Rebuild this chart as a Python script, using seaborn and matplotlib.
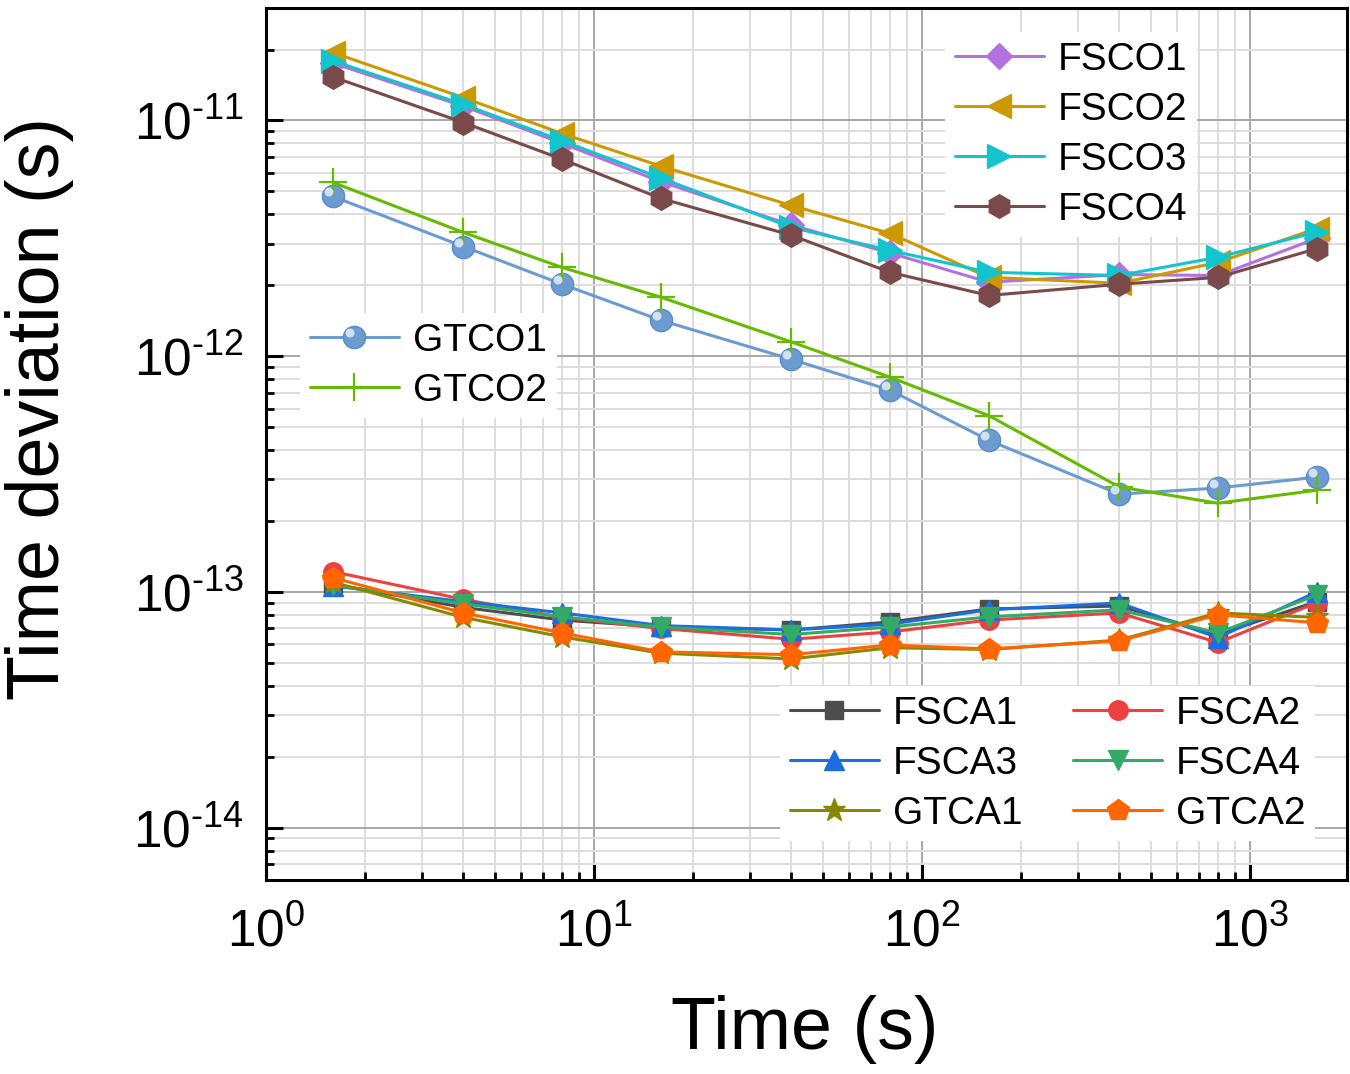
import numpy as np
import pandas as pd
import matplotlib
matplotlib.use("Agg")
import matplotlib.pyplot as plt
import seaborn as sns
from matplotlib.path import Path
from matplotlib.legend_handler import HandlerTuple
import matplotlib.ticker as mticker

# ---------------- data ----------------
tau = [1.6, 4, 8, 16, 40, 80, 160, 400, 800, 1600]

FSCO1 = [1.75e-11, 1.15e-11, 8.0e-12, 5.5e-12, 3.6e-12, 2.74e-12, 2.06e-12, 2.22e-12, 2.2e-12, 3.16e-12]
FSCO2 = [1.94e-11, 1.25e-11, 8.8e-12, 6.4e-12, 4.36e-12, 3.32e-12, 2.16e-12, 2.04e-12, 2.5e-12, 3.48e-12]
FSCO3 = [1.79e-11, 1.17e-11, 8.2e-12, 5.7e-12, 3.52e-12, 2.81e-12, 2.27e-12, 2.2e-12, 2.63e-12, 3.36e-12]
FSCO4 = [1.53e-11, 9.8e-12, 6.85e-12, 4.67e-12, 3.26e-12, 2.27e-12, 1.81e-12, 2.02e-12, 2.16e-12, 2.86e-12]
GTCO1 = [4.76e-12, 2.92e-12, 2.02e-12, 1.42e-12, 9.7e-13, 7.18e-13, 4.4e-13, 2.6e-13, 2.76e-13, 3.07e-13]
GTCO2 = [5.46e-12, 3.35e-12, 2.38e-12, 1.78e-12, 1.15e-12, 8.15e-13, 5.6e-13, 2.79e-13, 2.38e-13, 2.7e-13]

FSCA1 = [1.08e-13, 8.6e-14, 7.6e-14, 7.1e-14, 6.9e-14, 7.46e-14, 8.47e-14, 8.72e-14, 6.6e-14, 9.1e-14]
FSCA2 = [1.22e-13, 9.3e-14, 7.8e-14, 7.0e-14, 6.3e-14, 6.77e-14, 7.6e-14, 8.15e-14, 6.1e-14, 9.0e-14]
FSCA3 = [1.06e-13, 9.1e-14, 8.15e-14, 7.2e-14, 6.9e-14, 7.3e-14, 8.4e-14, 8.98e-14, 6.4e-14, 1.0e-13]
FSCA4 = [1.07e-13, 8.9e-14, 7.84e-14, 7.1e-14, 6.6e-14, 7.1e-14, 7.84e-14, 8.4e-14, 6.7e-14, 9.7e-14]
GTCA1 = [1.1e-13, 7.8e-14, 6.45e-14, 5.5e-14, 5.2e-14, 5.8e-14, 5.7e-14, 6.25e-14, 8.15e-14, 7.8e-14]
GTCA2 = [1.15e-13, 8.15e-14, 6.7e-14, 5.57e-14, 5.42e-14, 5.96e-14, 5.73e-14, 6.2e-14, 8.0e-14, 7.4e-14]

x_label = "Time (s)"
y_label = "Time deviation (s)"

# ---------------- style ----------------
sns.set_style("ticks")
plt.rcParams["font.family"] = ["Liberation Sans", "DejaVu Sans"]
plt.rcParams["mathtext.fontset"] = "custom"
plt.rcParams["mathtext.rm"] = "Liberation Sans"
plt.rcParams["mathtext.it"] = "Liberation Sans"
plt.rcParams["mathtext.default"] = "regular"
plt.rcParams["axes.unicode_minus"] = False
plt.rcParams["text.color"] = "black"
plt.rcParams["axes.labelcolor"] = "black"
plt.rcParams["xtick.color"] = "black"
plt.rcParams["ytick.color"] = "black"

fig = plt.figure(figsize=(13.5, 10.74), dpi=100)
W, H = 1350, 1074
ax = fig.add_axes([266 / W, 1 - 880 / H, (1347 - 266) / W, (880 - 8) / H])

LW = 2.2
MS = 15

def draw(y, color, marker, label, ms=MS, mew=1.0, mec=None, zorder=3):
    sns.lineplot(x=tau, y=y, ax=ax, color=color, marker=marker, markersize=ms,
                 markeredgecolor=mec if mec else color, markeredgewidth=mew,
                 linewidth=LW, label=label, zorder=zorder, legend=False)
    return ax.lines[-1]

h = {}
h["FSCO1"] = draw(FSCO1, "#b271de", "D", "FSCO1", ms=13)
h["FSCO2"] = draw(FSCO2, "#cc9900", "<", "FSCO2", ms=17)
h["FSCO3"] = draw(FSCO3, "#14c4cc", ">", "FSCO3", ms=17)
h["FSCO4"] = draw(FSCO4, "#7a4a4a", "h", "FSCO4", ms=17)
h["GTCO1"] = draw(GTCO1, "#6b9bd0", "o", "GTCO1", ms=16, mec="#5a8cc6")
# sphere highlight marker (offset small circle)
th = np.linspace(0, 2 * np.pi, 40)
hl_verts = np.column_stack([-0.2 + 0.2 * np.cos(th), 0.2 + 0.2 * np.sin(th)])
hl_verts = np.vstack([hl_verts, [[0.5, -0.5]]])
hl_codes = [Path.MOVETO] + [Path.LINETO] * (len(th) - 2) + [Path.CLOSEPOLY] + [Path.MOVETO]
hl_path = Path(hl_verts, hl_codes)
hl, = ax.plot(tau, GTCO1, linestyle="none", marker=hl_path, markersize=16,
              markerfacecolor="#e4eefa", markeredgewidth=0, alpha=0.85, zorder=3.1)
h["GTCO2"] = draw(GTCO2, "#66bb00", "+", "GTCO2", ms=20, mew=1.6)

h["FSCA1"] = draw(FSCA1, "#4d4d4d", "s", "FSCA1", ms=13)
h["FSCA2"] = draw(FSCA2, "#ee4040", "o", "FSCA2", ms=14)
h["FSCA3"] = draw(FSCA3, "#1a6ee0", "^", "FSCA3", ms=15)
h["FSCA4"] = draw(FSCA4, "#33aa66", "v", "FSCA4", ms=15)
h["GTCA1"] = draw(GTCA1, "#888800", "*", "GTCA1", ms=17)
h["GTCA2"] = draw(GTCA2, "#ff6600", "p", "GTCA2", ms=16)

ax.set_xscale("log")
ax.set_yscale("log")
ax.set_xlim(1, 1980)
ax.set_ylim(6.0e-15, 3.0e-11)

def log_fmt(v, pos):
    e = int(round(np.log10(v)))
    return r"$10^{\text{%d}}$" % e

ax.xaxis.set_major_locator(mticker.FixedLocator([1, 10, 100, 1000]))
ax.xaxis.set_minor_locator(mticker.LogLocator(base=10, subs=np.arange(2, 10), numticks=20))
ax.yaxis.set_major_locator(mticker.FixedLocator([1e-14, 1e-13, 1e-12, 1e-11]))
ax.yaxis.set_minor_locator(mticker.LogLocator(base=10, subs=np.arange(2, 10), numticks=20))
ax.xaxis.set_major_formatter(mticker.FuncFormatter(log_fmt))
ax.yaxis.set_major_formatter(mticker.FuncFormatter(log_fmt))
ax.xaxis.set_minor_formatter(mticker.NullFormatter())
ax.yaxis.set_minor_formatter(mticker.NullFormatter())

ax.grid(which="major", color="#a8a8a8", linewidth=1.4, zorder=0)
ax.grid(which="minor", color="#dddddd", linewidth=1.4, zorder=0)
ax.set_axisbelow(True)

for s in ax.spines.values():
    s.set_linewidth(2.2)
    s.set_color("black")

ax.tick_params(which="major", direction="in", length=12, width=2.2, labelsize=37,
               top=False, right=False, colors="black")
ax.tick_params(axis="x", which="major", pad=20)
ax.tick_params(axis="y", which="major", pad=16)
ax.tick_params(which="minor", direction="in", length=6, width=2.0,
               top=False, right=False)

ax.set_xlabel(x_label, fontsize=53)
ax.set_ylabel(y_label, fontsize=53)
ax.xaxis.set_label_coords((805 - 266) / 1081, -(1030 - 880) / 872)
ax.yaxis.set_label_coords((40 - 266) / 1081, (880 - 408) / 872)
ax.xaxis.label.set_va("center")
ax.yaxis.label.set_va("center")

leg_kw = dict(fontsize=28, frameon=True, framealpha=1.0, facecolor="white",
              edgecolor="none", fancybox=False, handlelength=2.3, handletextpad=0.35,
              labelspacing=0.36, borderpad=0.25, borderaxespad=0.0,
              bbox_transform=fig.transFigure, loc="upper left")

names1 = ["FSCO1", "FSCO2", "FSCO3", "FSCO4"]
leg1 = ax.legend([h[n] for n in names1], names1,
                 bbox_to_anchor=(945 / W, 1 - 32 / H), **leg_kw)
ax.add_artist(leg1)

names2 = ["GTCO1", "GTCO2"]
leg2 = ax.legend([(h["GTCO1"], hl), h["GTCO2"]], names2,
                 handler_map={tuple: HandlerTuple(ndivide=1, pad=0)},
                 bbox_to_anchor=(300 / W, 1 - 313 / H), **leg_kw)
ax.add_artist(leg2)

names3 = ["FSCA1", "FSCA3", "GTCA1", "FSCA2", "FSCA4", "GTCA2"]
leg3 = ax.legend([h[n] for n in names3], names3, ncol=2, columnspacing=1.3,
                 bbox_to_anchor=(780 / W, 1 - 686 / H), **leg_kw)

fig.savefig("out.png", dpi=100)
